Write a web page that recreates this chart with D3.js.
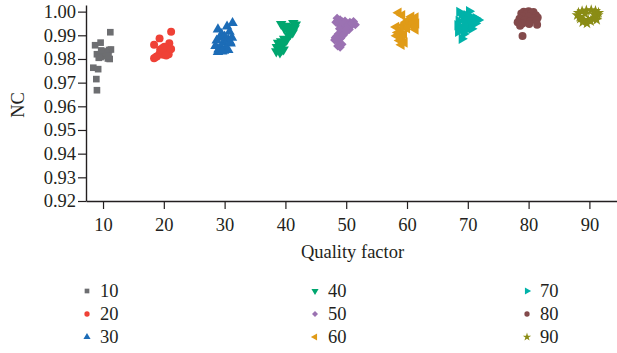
<!DOCTYPE html>
<html>
<head>
<meta charset="utf-8">
<script src="https://cdn.jsdelivr.net/npm/d3@7"></script>
<style>
	body { margin: 0; background: #fff; }
	svg { display: block; }
	text { font-family: "Liberation Serif", "Times New Roman", serif; fill: #231f20; }
</style>
</head>
<body>
<div id="chart"></div>
<script>
// series names (quality factor), colours and symbol kinds
var seriesNames = ["10", "20", "30", "40", "50", "60", "70", "80", "90"];
var seriesColors = ["#6d6e71", "#ef4136", "#1c6cb7", "#00a66f", "#9b72b2", "#e09b17", "#00b2a9", "#834a4b", "#8a8c15"];
var seriesShapes = ["square", "circle", "up", "down", "diamond", "left", "right", "circle", "star"];

// tick labels
var xTicks = [10, 20, 30, 40, 50, 60, 70, 80, 90];
var yTicks = [0.92, 0.93, 0.94, 0.95, 0.96, 0.97, 0.98, 0.99, 1.00];

// points [jittered quality factor, NC]
var pts10 = [[11.2, 0.9913], [8.7, 0.9858], [9.6, 0.9869], [9.0, 0.9820], [9.4, 0.9815], [9.8, 0.9822], [10.2, 0.9812], [10.6, 0.9818],
	[11.0, 0.9838], [11.3, 0.9840], [10.4, 0.9832], [9.6, 0.9808], [10.8, 0.9802], [11.1, 0.9800], [10.0, 0.9828], [9.3, 0.9805],
	[10.5, 0.9825], [9.7, 0.9836], [10.9, 0.9812], [8.4, 0.9763], [9.2, 0.9757], [8.9, 0.9715], [9.0, 0.9668]];
var pts20 = [[21.2, 0.9915], [19.3, 0.9887], [18.4, 0.9860], [20.9, 0.9866], [20.3, 0.9845], [18.4, 0.9803], [18.9, 0.9812],
	[19.3, 0.9822], [19.6, 0.9830], [19.9, 0.9818], [20.3, 0.9825], [20.6, 0.9836], [21.0, 0.9840], [20.8, 0.9820], [19.4, 0.9840],
	[20.1, 0.9852], [18.7, 0.9808], [20.4, 0.9815], [21.2, 0.9842], [19.8, 0.9846]];
var pts30 = [[28.9, 0.9925], [30.4, 0.9937], [31.3, 0.9952], [29.5, 0.9905], [30.8, 0.9915], [29.2, 0.9890], [30.0, 0.9895],
	[28.7, 0.9878], [29.8, 0.9870], [30.6, 0.9882], [31.0, 0.9865], [28.5, 0.9855], [29.4, 0.9850], [30.2, 0.9845], [29.0, 0.9840],
	[29.9, 0.9835], [30.6, 0.9838], [28.9, 0.9830], [29.6, 0.9832], [30.9, 0.9872], [31.2, 0.9890]];
var pts40 = [[39.3, 0.9948], [40.0, 0.9940], [40.6, 0.9935], [41.3, 0.9952], [41.7, 0.9945], [40.3, 0.9925], [41.0, 0.9920],
	[41.5, 0.9930], [40.8, 0.9905], [41.2, 0.9912], [40.5, 0.9900], [39.8, 0.9930], [39.8, 0.9885], [40.2, 0.9880], [39.3, 0.9875],
	[38.8, 0.9868], [39.6, 0.9860], [38.6, 0.9850], [39.0, 0.9845], [39.4, 0.9838], [38.5, 0.9832], [39.1, 0.9828], [39.7, 0.9840]];
var pts50 = [[48.5, 0.9972], [49.0, 0.9965], [48.3, 0.9955], [49.4, 0.9950], [50.0, 0.9948], [50.6, 0.9955], [51.2, 0.9958],
	[51.5, 0.9945], [50.8, 0.9940], [50.2, 0.9935], [49.6, 0.9930], [50.5, 0.9925], [49.2, 0.9918], [48.7, 0.9905], [49.8, 0.9910],
	[48.4, 0.9895], [49.1, 0.9888], [48.1, 0.9880], [48.8, 0.9870], [49.3, 0.9862], [48.6, 0.9855], [49.0, 0.9850],
	[49.8, 0.9960], [50.2, 0.9942], [49.0, 0.9940], [48.9, 0.9928], [49.5, 0.9900], [48.2, 0.9890], [50.9, 0.9950], [49.9, 0.9922],
	[49.3, 0.9958], [48.6, 0.9962]];
var pts60 = [[58.6, 0.9995], [59.2, 0.9985], [60.7, 0.9978], [61.4, 0.9975], [60.2, 0.9965], [61.0, 0.9960], [61.5, 0.9950],
	[59.8, 0.9955], [60.5, 0.9945], [61.2, 0.9935], [59.3, 0.9942], [60.0, 0.9930], [61.4, 0.9925], [58.2, 0.9935], [59.0, 0.9925],
	[58.5, 0.9912], [59.5, 0.9905], [58.3, 0.9898], [59.2, 0.9890], [58.8, 0.9878], [59.6, 0.9870], [59.1, 0.9860]];
var pts70 = [[68.6, 0.9998], [70.2, 1.0002], [69.0, 0.9990], [69.8, 0.9985], [70.5, 0.9978], [71.3, 0.9972], [71.7, 0.9965],
	[69.3, 0.9972], [70.0, 0.9965], [70.8, 0.9958], [68.5, 0.9960], [69.5, 0.9952], [70.4, 0.9948], [71.2, 0.9950], [68.3, 0.9942],
	[69.0, 0.9935], [70.0, 0.9930], [68.7, 0.9925], [69.6, 0.9920], [70.6, 0.9928], [68.4, 0.9915], [69.3, 0.9905], [69.0, 0.9885]];
var pts80 = [[79.2, 1.0000], [80.0, 1.0002], [80.8, 0.9998], [78.8, 0.9992], [79.6, 0.9990], [80.4, 0.9992], [81.2, 0.9985],
	[81.5, 0.9975], [79.0, 0.9980], [80.0, 0.9978], [80.8, 0.9970], [78.5, 0.9970], [79.4, 0.9965], [80.3, 0.9960], [81.3, 0.9962],
	[78.2, 0.9955], [79.0, 0.9950], [80.1, 0.9948], [78.6, 0.9940], [81.4, 0.9945], [79.0, 0.9897]];
var pts90 = [[88.2, 0.9995], [88.8, 1.0002], [89.5, 1.0005], [90.3, 1.0006], [91.0, 1.0003], [91.5, 0.9995], [91.4, 0.9985],
	[91.0, 0.9975], [90.5, 0.9970], [89.8, 0.9965], [89.0, 0.9962], [88.5, 0.9970], [88.0, 0.9985], [88.4, 0.9978], [89.3, 0.9990],
	[90.8, 0.9988], [89.6, 0.9950], [90.2, 0.9960], [88.9, 0.9955], [91.2, 0.9965]];
var allPoints = [pts10, pts20, pts30, pts40, pts50, pts60, pts70, pts80, pts90];

var width = 617, height = 353;
var plot = { left: 86, right: 617, top: 5, bottom: 201 };
var fontSize = "18.5px";

var svg = d3.select("#chart").append("svg")
	.attr("width", width)
	.attr("height", height);

var x = d3.scaleLinear().domain([7.2, 94.54]).range([plot.left, plot.right]);
var y = d3.scaleLinear().domain([0.92, 1.0028]).range([plot.bottom, plot.top]);

// symbol type, rotation and area for a shape kind
function shapeType(kind) {
	if (kind == "square" || kind == "diamond") return d3.symbolSquare;
	if (kind == "circle") return d3.symbolCircle;
	if (kind == "star") return d3.symbolStar;
	return d3.symbolTriangle;
}
function shapeRotate(kind) {
	if (kind == "down") return 180;
	if (kind == "left") return -90;
	if (kind == "right") return 90;
	if (kind == "diamond") return 45;
	return 0;
}
function shapeSize(kind) {
	if (kind == "square") return 44;
	if (kind == "circle") return 50;
	if (kind == "diamond") return 42;
	if (kind == "star") return 40;
	return 48;
}

// axes
var xAxis = svg.append("g")
	.attr("transform", "translate(0," + plot.bottom + ")")
	.call(d3.axisBottom(x).tickValues(xTicks).tickSize(8).tickPadding(9).tickSizeOuter(0));
var yAxis = svg.append("g")
	.attr("transform", "translate(" + plot.left + ",0)")
	.call(d3.axisLeft(y).tickValues(yTicks).tickFormat(d3.format(".2f")).tickSize(8).tickPadding(2).tickSizeOuter(0));

[xAxis, yAxis].forEach(function (a) {
	a.select(".domain").attr("stroke", "#231f20").attr("stroke-width", 1.4);
	a.selectAll(".tick line").attr("stroke", "#231f20").attr("stroke-width", 1.2);
	a.selectAll(".tick text")
		.attr("fill", "#231f20")
		.style("font-family", "'Liberation Serif', serif")
		.style("font-size", fontSize);
});

// axis titles
svg.append("text")
	.attr("x", (plot.left + plot.right) / 2 + 1)
	.attr("y", 258)
	.attr("text-anchor", "middle")
	.style("font-size", fontSize)
	.text("Quality factor");

svg.append("text")
	.attr("transform", "translate(24,105) rotate(-90)")
	.attr("text-anchor", "middle")
	.style("font-size", fontSize)
	.text("NC");

// scatter points
var marks = svg.append("g");
allPoints.forEach(function (pts, i) {
	var kind = seriesShapes[i];
	marks.append("g")
		.selectAll("path")
		.data(pts)
		.enter()
		.append("path")
		.attr("d", d3.symbol().type(shapeType(kind)).size(shapeSize(kind)))
		.attr("transform", function (d) {
			return "translate(" + x(d[0]) + "," + y(d[1]) + ") rotate(" + shapeRotate(kind) + ")";
		})
		.attr("fill", seriesColors[i]);
});

// legend, three columns of three
var legendCols = [87, 315, 527];
var legendRows = [291, 314, 337];
var legend = svg.append("g");
seriesNames.forEach(function (name, i) {
	var kind = seriesShapes[i];
	var lx = legendCols[Math.floor(i / 3)];
	var ly = legendRows[i % 3];
	legend.append("path")
		.attr("d", d3.symbol().type(shapeType(kind)).size(kind == "diamond" ? 18 : 22))
		.attr("transform", "translate(" + lx + "," + ly + ") rotate(" + shapeRotate(kind) + ")")
		.attr("fill", seriesColors[i]);
	legend.append("text")
		.attr("x", lx + 13)
		.attr("y", ly)
		.attr("dy", "0.35em")
		.style("font-size", fontSize)
		.text(name);
});
</script>
</body>
</html>
